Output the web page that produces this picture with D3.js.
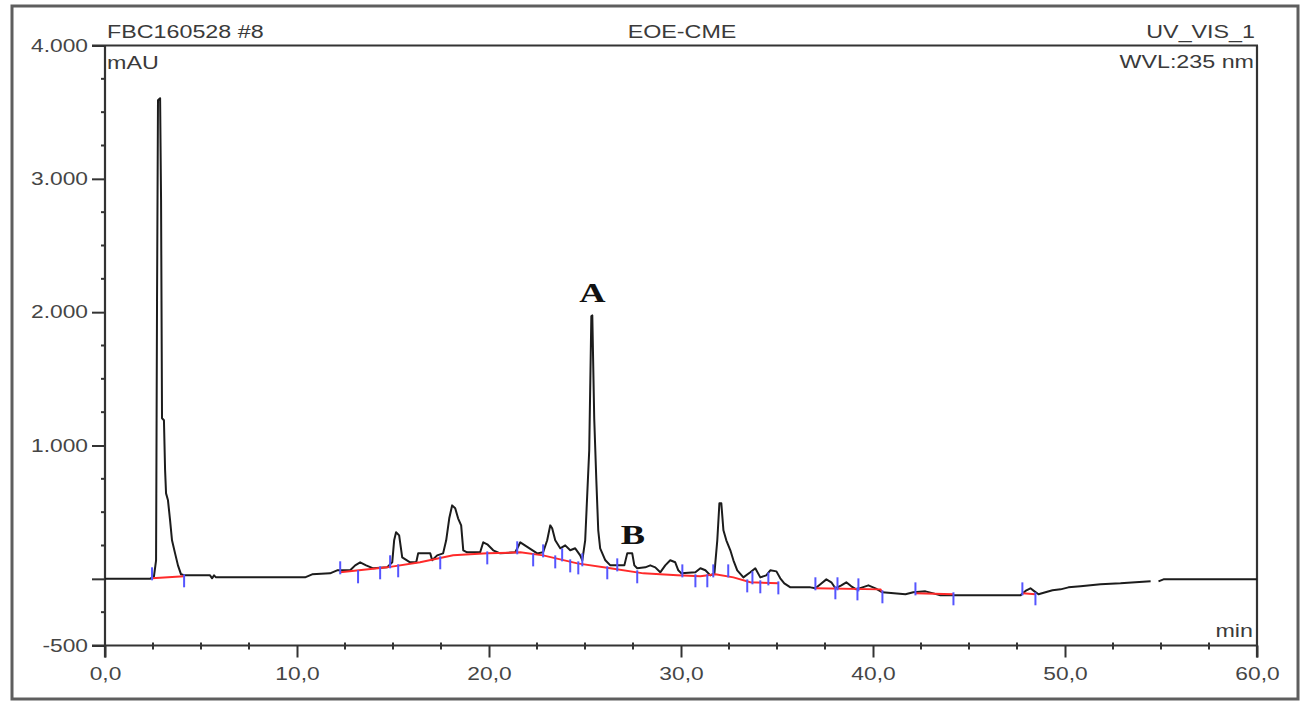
<!DOCTYPE html>
<html lang="en">
<head>
  <meta charset="UTF-8">
  <title>FBC160528 #8 EOE-CME</title>
  <script src="https://d3js.org/d3.v7.min.js"></script>
  <style>
    body { margin: 0; background: #fff; }
    text { font-family: "Liberation Sans", Arial, sans-serif; }
  </style>
</head>
<body>
  <svg id="svg" width="1303" height="701"></svg>
  <script>
    // chromatogram trace (min, mAU); null = gap in the trace
    var time = [0, 2.34, 2.55, 2.66, 2.71, 2.76, 2.87, 2.92, 2.97, 3.07, 3.13, 3.18, 3.28, 3.39, 3.49, 3.65, 3.80, 3.96, 4.17,
      5.47, 5.58, 5.68, 5.78, 10.42, 10.79, 11.72, 12.09, 12.77, 13.03, 13.29, 13.60, 13.97, 14.69, 14.96, 15.06, 15.16,
      15.32, 15.48, 15.89, 16.21, 16.31, 16.94, 17.04, 17.30, 17.61, 17.77, 17.93, 18.08, 18.24, 18.39, 18.55, 18.66,
      18.86, 19.54, 19.70, 19.91, 20.22, 20.58, 21.37, 21.63, 22.51, 22.82, 23.03, 23.19, 23.29, 23.45, 23.71, 23.97,
      24.23, 24.49, 24.75, 24.86, 25.01, 25.22, 25.33, 25.38, 25.48, 25.59, 25.69, 25.79, 26.06, 26.32, 27.05, 27.20,
      27.46, 27.57, 27.72, 28.14, 28.40, 28.66, 28.92, 29.18, 29.44, 29.70, 29.86, 30.02, 30.75, 31.01, 31.27, 31.53,
      31.74, 31.89, 32.00, 32.10, 32.21, 32.36, 32.57, 32.73, 32.93, 33.25, 33.61, 33.87, 34.13, 34.44, 34.65, 34.97,
      35.17, 35.38, 35.70, 36.74, 37.00, 37.26, 37.57, 37.83, 38.04, 38.35, 38.61, 38.87, 39.13, 39.45, 39.76, 40.13,
      40.49, 41.69, 42.10, 42.73, 43.15, 43.51, 47.68, 47.99, 48.20, 48.41, 48.62, 48.98, 49.35, 49.77, 50.18, 50.81,
      51.33, 51.85, 52.89, 53.67, 54.46, 54.66, 54.87, 55.13, 60.0]
    var mau = [0, 0, 19, 139, 2089, 3589, 3604, 2839, 1204, 1189, 814, 641, 589, 439, 289, 191, 101, 34, 26,
      26, 4, 26, 11, 11, 34, 41, 64, 64, 101, 124, 101, 79, 86, 124, 289, 349,
      326, 161, 124, 124, 191, 191, 139, 176, 191, 289, 454, 551, 529, 454, 401, 214,
      199, 199, 274, 259, 214, 191, 199, 274, 191, 199, 289, 401, 379, 289, 229, 251,
      214, 229, 176, 139, 289, 964, 1969, 1976, 1204, 739, 364, 229, 139, 101, 101, 191,
      191, 101, 79, 86, 101, 86, 49, 101, 139, 124, 64, 41, 49, 79, 64, 26,
      41, 289, 566, 566, 364, 289, 214, 139, 64, 11, 49, 79, 11, 26, 64, 56,
      4, -34, -64, -64, -71, -41, -4, -26, -71, -49, -26, -56, -79, -64, -49, -71,
      -101, -116, -101, -94, -109, -124, -124, -86, -71, -94, -116, -101, -86, -79, -64, -56,
      -49, -41, -34, -26, -19, null, -19, -4, -4]

    // integration baselines (red), one array pair per segment
    var baseTime = [[2.45, 4.12],
      [12.25, 14.69, 16.41, 18.13, 19.91, 21.63, 22.82, 24.60, 26.32, 28.04, 29.81, 31.01, 31.79, 32.73, 33.61, 35.07],
      [37.00, 40.39, 40.49], [42.21, 44.19], [47.78, 48.46]]
    var baseMau = [[4, 19],
      [49, 86, 124, 176, 191, 199, 176, 116, 79, 41, 26, 19, 34, 11, -26, -34],
      [-71, -79, -101], [-109, -116], [-109, -116]]

    // peak delimiters (blue): 1 = start mark (up), -1 = end mark (down)
    var markTime = [2.45, 4.12, 12.25, 13.18, 14.33, 14.85, 15.27, 17.46, 19.91, 21.47, 22.30, 22.82, 23.45, 23.81,
      24.23, 24.65, 24.86, 26.16, 26.68, 27.72, 30.07, 30.75, 31.37, 31.68, 32.46, 33.45, 33.72, 34.13, 34.55, 35.07,
      37.00, 38.04, 38.15, 39.19, 39.24, 40.49, 42.21, 44.19, 47.78, 48.46]
    var markMau = [4, 19, 49, 49, 79, 94, 94, 154, 191, 199, 176, 176, 161, 146,
      131, 116, 109, 79, 71, 49, 26, 19, 19, 26, 26, -19, -26, -26, -34, -34,
      -71, -71, -71, -79, -79, -101, -109, -116, -109, -116]
    var markDir = [1, -1, 1, -1, -1, 1, -1, -1, -1, 1, -1, 1, -1, 1,
      -1, -1, 1, -1, 1, -1, 1, -1, -1, 1, 1, -1, 1, -1, 1, -1,
      1, -1, 1, -1, 1, -1, 1, -1, 1, -1]

    var yTicks = [-500, 0, 1000, 2000, 3000, 4000]
    var yLabels = ['-500', '', '1.000', '2.000', '3.000', '4.000']
    var xTicks = [0, 10, 20, 30, 40, 50, 60]
    var xLabels = ['0,0', '10,0', '20,0', '30,0', '40,0', '50,0', '60,0']
    var peakLabels = [{ name: 'A', t: 25.38, v: 2080 }, { name: 'B', t: 27.5, v: 260 }]

    var x = d3.scaleLinear().domain([0, 60]).range([105, 1257])
    var y = d3.scaleLinear().domain([-500, 4000]).range([645.5, 45.5])

    // the original print is stretched sideways, so widen the glyphs a bit
    function widen(sel, k) {
      sel.each(function () {
        var w = this.getComputedTextLength()
        if (w > 0) d3.select(this).attr('textLength', w * k).attr('lengthAdjust', 'spacingAndGlyphs')
      })
    }

    var svg = d3.select('svg')

    // outer frame
    svg.append('rect')
      .attr('x', 12).attr('y', 6).attr('width', 1286).attr('height', 693)
      .attr('fill', 'none').attr('stroke', '#5e5e5e').attr('stroke-width', 3)

    // header texts
    var head = svg.append('g').attr('fill', '#3a3a3a').style('font-size', '17.5px')
    head.append('text').attr('x', 107).attr('y', 38).text('FBC160528 #8')
    head.append('text').attr('x', 682).attr('y', 38).attr('text-anchor', 'middle').text('EOE-CME')
    head.append('text').attr('x', 1255).attr('y', 38).attr('text-anchor', 'end').text('UV_VIS_1')
    head.append('text').attr('x', 107).attr('y', 69).text('mAU')
    head.append('text').attr('x', 1254).attr('y', 68).attr('text-anchor', 'end').text('WVL:235 nm')
    head.append('text').attr('x', 1253).attr('y', 637).attr('text-anchor', 'end').text('min')
    widen(head.selectAll('text'), 1.33)

    // axes
    var yAxis = d3.axisLeft(y).tickValues(yTicks)
      .tickFormat((d, i) => yLabels[i]).tickSize(13).tickPadding(4)
    var gy = svg.append('g').attr('transform', 'translate(105,0)').call(yAxis)
    gy.select('.domain').remove()

    var xAxis = d3.axisBottom(x).tickValues(xTicks)
      .tickFormat((d, i) => xLabels[i]).tickSize(12).tickPadding(10)
    var gx = svg.append('g').attr('transform', 'translate(0,' + y(-500) + ')').call(xAxis)
    gx.select('.domain').remove()

    svg.selectAll('.tick line').attr('stroke', '#333').attr('stroke-width', 2)
    svg.selectAll('.tick text').attr('fill', '#454545')
      .style('font-size', '17.5px').style('font-family', '"Liberation Sans", Arial, sans-serif')
    widen(svg.selectAll('.tick text'), 1.3)

    // minor ticks
    var yMinor = d3.range(-250, 4000, 250).filter(d => yTicks.indexOf(d) < 0)
    svg.append('g').selectAll('line').data(yMinor).enter().append('line')
      .attr('x1', 101).attr('x2', 106)
      .attr('y1', d => y(d)).attr('y2', d => y(d))
      .attr('stroke', '#333').attr('stroke-width', 2)
    var xMinor = d3.range(2.5, 60, 2.5).filter(d => xTicks.indexOf(d) < 0)
    svg.append('g').selectAll('line').data(xMinor).enter().append('line')
      .attr('x1', d => x(d)).attr('x2', d => x(d))
      .attr('y1', y(-500) - 3).attr('y2', y(-500) + 4)
      .attr('stroke', '#333').attr('stroke-width', 2)

    // plot box lines
    var box = svg.append('g').attr('stroke', '#333').attr('stroke-width', 2.2).attr('fill', 'none')
    box.append('line').attr('x1', 92).attr('x2', x(60) + 1).attr('y1', y(4000)).attr('y2', y(4000))
    box.append('line').attr('x1', 92).attr('x2', x(60) + 1).attr('y1', y(-500)).attr('y2', y(-500))
    box.append('line').attr('x1', x(0)).attr('x2', x(0)).attr('y1', y(4000)).attr('y2', y(-500) + 12)
    box.append('line').attr('x1', x(60)).attr('x2', x(60)).attr('y1', y(4000)).attr('y2', y(-500) + 12)

    // trace
    var trace = time.map((t, i) => ({ t: t, v: mau[i] }))
    var line = d3.line().defined(d => d.v !== null).x(d => x(d.t)).y(d => y(d.v))
    svg.append('path').datum(trace)
      .attr('d', line)
      .attr('fill', 'none').attr('stroke', '#1c1c1c').attr('stroke-width', 2)
      .attr('stroke-linejoin', 'round')

    // baselines
    var bline = d3.line().x(d => x(d.t)).y(d => y(d.v))
    svg.append('g').selectAll('path')
      .data(baseTime.map((ts, k) => ts.map((t, i) => ({ t: t, v: baseMau[k][i] }))))
      .enter().append('path')
      .attr('d', bline)
      .attr('fill', 'none').attr('stroke', '#ff2a2a').attr('stroke-width', 2)

    // peak delimiters
    svg.append('g').selectAll('line')
      .data(markTime.map((t, i) => ({ t: t, v: markMau[i], d: markDir[i] })))
      .enter().append('line')
      .attr('x1', d => x(d.t)).attr('x2', d => x(d.t))
      .attr('y1', d => y(d.v) + d.d * 2)
      .attr('y2', d => y(d.v) - d.d * 11)
      .attr('stroke', '#5555ff').attr('stroke-width', 2)

    // peak letters
    var letters = svg.append('g').selectAll('text').data(peakLabels).enter().append('text')
      .attr('x', d => x(d.t)).attr('y', d => y(d.v))
      .attr('text-anchor', 'middle')
      .style('font-family', '"Liberation Serif", "Times New Roman", serif')
      .style('font-weight', 'bold').style('font-size', '28px')
      .attr('fill', '#111')
      .text(d => d.name)
    widen(letters, 1.3)
  </script>
</body>
</html>
